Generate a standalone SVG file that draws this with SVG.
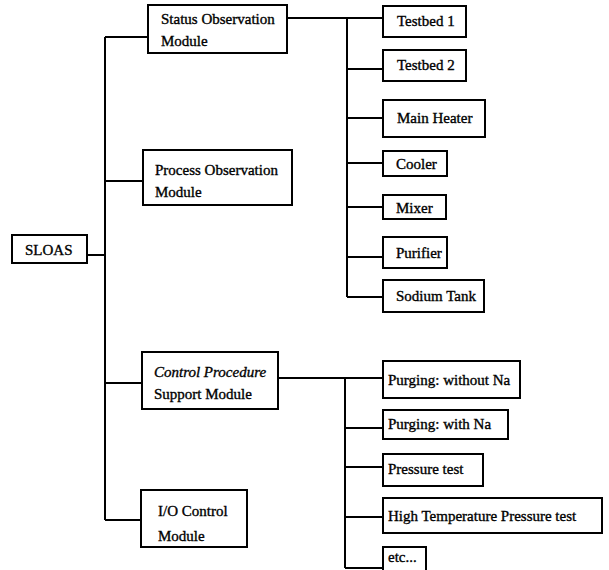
<svg xmlns="http://www.w3.org/2000/svg" width="609" height="570" viewBox="0 0 609 570">
<style>
rect{fill:#fff;stroke:#000;stroke-width:2}
.c path{fill:none;stroke:#000;stroke-width:2}
text{font-size:15px;fill:#000;stroke:#000;stroke-width:0.35}
.i{font-style:italic}
</style>
<rect x="0" y="0" width="609" height="570" style="stroke:none"/>
<g class="c">
<path d="M87 255H105M105 37V520M105 37H148M105 181H143M105 383H142M105 520H141"/>
<path d="M287 18H347M347 18V297M347 18H383M347 69H383M347 118H383M347 163H383M347 207H383M347 257H383M347 297H383"/>
<path d="M278 378H345M345 378V568M345 378H383M345 428H383M345 467H383M345 517H383M345 568H383"/>
</g>
<g font-family="'Liberation Serif','DejaVu Serif','Times New Roman',serif">
<g id="sloas"><rect x="12" y="235" width="75" height="28"/><text x="25" y="255" font-size="14">SLOAS</text></g>
<g id="status"><rect x="148" y="5" width="139" height="48"/><text x="161" y="24">Status Observation</text><text x="161" y="46">Module</text></g>
<g id="process"><rect x="143" y="150" width="149" height="55"/><text x="155" y="175">Process Observation</text><text x="155" y="197">Module</text></g>
<g id="control"><rect x="142" y="352" width="136" height="57"/><text class="i" x="154" y="377">Control Procedure</text><text x="154" y="399">Support Module</text></g>
<g id="io"><rect x="141" y="490" width="106" height="57"/><text x="158" y="516">I/O Control</text><text x="158" y="541">Module</text></g>
<g id="tb1"><rect x="383" y="6" width="83" height="31"/><text x="397" y="26">Testbed 1</text></g>
<g id="tb2"><rect x="383" y="50" width="83" height="31"/><text x="397" y="70">Testbed 2</text></g>
<g id="heater"><rect x="383" y="100" width="102" height="37"/><text x="397" y="123">Main Heater</text></g>
<g id="cooler"><rect x="383" y="151" width="64" height="25"/><text x="396" y="169">Cooler</text></g>
<g id="mixer"><rect x="383" y="195" width="63" height="24"/><text x="396" y="213">Mixer</text></g>
<g id="purifier"><rect x="383" y="237" width="64" height="31"/><text x="396" y="258">Purifier</text></g>
<g id="tank"><rect x="383" y="280" width="101" height="32"/><text x="396" y="301">Sodium Tank</text></g>
<g id="p1"><rect x="383" y="361" width="137" height="37"/><text x="388" y="385">Purging: without Na</text></g>
<g id="p2"><rect x="383" y="410" width="125" height="29"/><text x="388" y="429">Purging: with Na</text></g>
<g id="pt"><rect x="383" y="454" width="100" height="32"/><text x="388" y="474">Pressure test</text></g>
<g id="htpt"><rect x="383" y="498" width="219" height="35"/><text x="388" y="521">High Temperature Pressure test</text></g>
<g id="etc"><rect x="383" y="547" width="43" height="30"/><text x="388" y="562">etc...</text></g>
</g>
</svg>
